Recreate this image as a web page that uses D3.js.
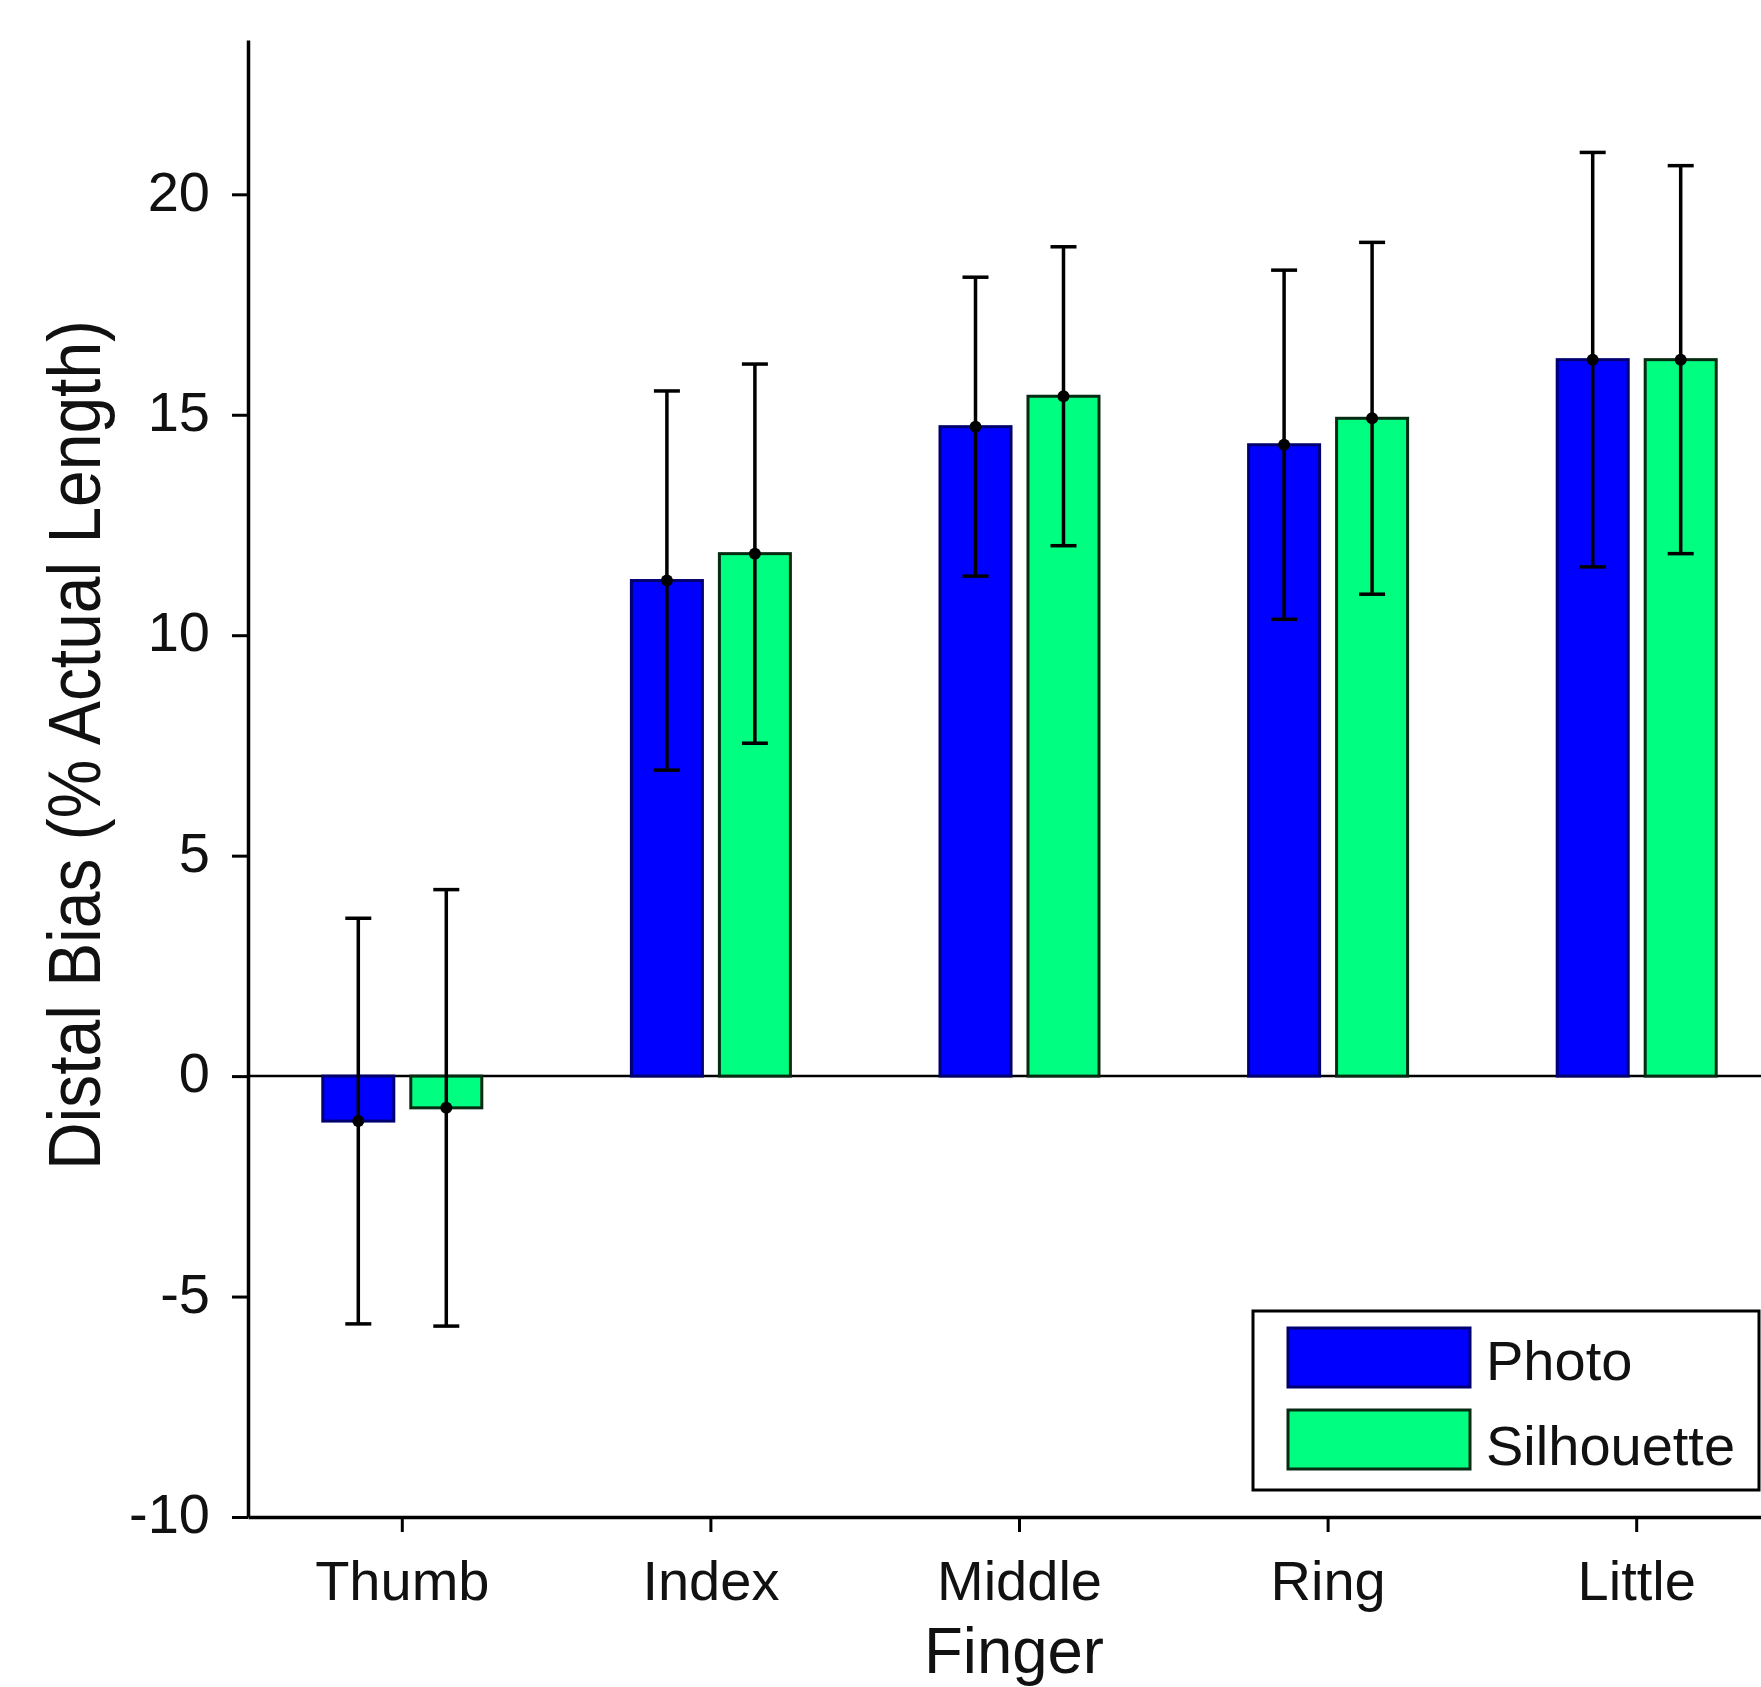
<!DOCTYPE html>
<html>
<head>
<meta charset="utf-8">
<script src="https://cdn.jsdelivr.net/npm/d3@7"></script>
<style>
  body { margin: 0; background: #fff; }
  text { font-family: "Liberation Sans", Arial, sans-serif; fill: #111; }
</style>
</head>
<body>
<div id="chart"></div>
<script>
const ancho = 1761
const alto = 1687
const margen = { superior: 40, inferior: 170, izquierdo: 248, derecho: -30 }

// datos
const dedos = ["Thumb", "Index", "Middle", "Ring", "Little"]
const series = ["Photo", "Silhouette"]
const photoMedia = [-1.02, 11.24, 14.73, 14.32, 16.25]
const photoError = [4.6, 4.3, 3.39, 3.96, 4.7]
const siluetaMedia = [-0.72, 11.85, 15.42, 14.92, 16.25]
const siluetaError = [4.95, 4.3, 3.39, 3.99, 4.4]
const yTicks = [-10, -5, 0, 5, 10, 15, 20]

const colores = { Photo: "#0000ff", Silhouette: "#00ff80" }
const bordes = { Photo: "#000070", Silhouette: "#062a12" }

const datos = []
dedos.forEach((d, i) => {
    datos.push({ dedo: d, serie: "Photo", media: photoMedia[i], error: photoError[i] })
    datos.push({ dedo: d, serie: "Silhouette", media: siluetaMedia[i], error: siluetaError[i] })
})

const svg = d3.select("#chart").append("svg")
    .attr("width", ancho)
    .attr("height", alto)

const x = d3.scaleBand().domain(dedos)
    .range([margen.izquierdo, ancho - margen.derecho])
const xs = d3.scaleBand().domain(series)
    .range([-79.5, 79.5]).paddingInner(0.193)
const y = d3.scaleLinear().domain([-10, 23.5])
    .range([alto - margen.inferior, margen.superior])

const centro = d => x(d.dedo) + x.bandwidth() / 2 + xs(d.serie) + xs.bandwidth() / 2

// linea del cero
svg.append("line")
    .attr("x1", margen.izquierdo).attr("x2", ancho)
    .attr("y1", y(0)).attr("y2", y(0))
    .attr("stroke", "#000").attr("stroke-width", 2.5)

// barras
svg.append("g").selectAll("rect")
    .data(datos)
    .join("rect")
        .attr("x", d => x(d.dedo) + x.bandwidth() / 2 + xs(d.serie))
        .attr("width", xs.bandwidth())
        .attr("y", d => y(Math.max(0, d.media)))
        .attr("height", d => Math.abs(y(d.media) - y(0)))
        .attr("fill", d => colores[d.serie])
        .attr("stroke", d => bordes[d.serie])
        .attr("stroke-width", 3)

// barras de error
const errores = svg.append("g").attr("stroke", "#000").attr("stroke-width", 3.5)
errores.selectAll(".vert").data(datos).join("line")
    .attr("class", "vert")
    .attr("x1", centro).attr("x2", centro)
    .attr("y1", d => y(d.media + d.error))
    .attr("y2", d => y(d.media - d.error))
errores.selectAll(".capArriba").data(datos).join("line")
    .attr("class", "capArriba")
    .attr("x1", d => centro(d) - 13).attr("x2", d => centro(d) + 13)
    .attr("y1", d => y(d.media + d.error)).attr("y2", d => y(d.media + d.error))
errores.selectAll(".capAbajo").data(datos).join("line")
    .attr("class", "capAbajo")
    .attr("x1", d => centro(d) - 13).attr("x2", d => centro(d) + 13)
    .attr("y1", d => y(d.media - d.error)).attr("y2", d => y(d.media - d.error))
svg.append("g").selectAll("circle").data(datos).join("circle")
    .attr("cx", centro)
    .attr("cy", d => y(d.media))
    .attr("r", 6)
    .attr("fill", "#000")

// ejes
const ejeY = d3.axisLeft(y).tickValues(yTicks).tickFormat(d => String(d))
    .tickSize(16).tickSizeOuter(0).tickPadding(22)
const ejeX = d3.axisBottom(x).tickSize(15).tickSizeOuter(0).tickPadding(28)

const grupoY = svg.append("g")
    .attr("transform", `translate(${margen.izquierdo},0)`)
    .call(ejeY)
const grupoX = svg.append("g")
    .attr("transform", `translate(0,${alto - margen.inferior})`)
    .call(ejeX)

;[grupoX, grupoY].forEach(g => {
    g.select(".domain").attr("stroke", "#000").attr("stroke-width", 3.5)
    g.selectAll(".tick line").attr("stroke", "#000").attr("stroke-width", 3)
    g.selectAll(".tick text")
        .attr("font-family", "Liberation Sans, Arial, sans-serif")
        .attr("font-size", 56)
        .attr("fill", "#111")
})
grupoY.selectAll(".tick text").attr("dy", "0.28em")
grupoX.selectAll(".tick text").attr("dy", "0.71em")

// titulos
svg.append("text")
    .text("Distal Bias (% Actual Length)")
    .attr("transform", `translate(100,745) rotate(-90)`)
    .attr("text-anchor", "middle")
    .attr("font-size", 75)
    .attr("textLength", 850)
    .attr("lengthAdjust", "spacingAndGlyphs")

svg.append("text")
    .text("Finger")
    .attr("x", 1014)
    .attr("y", 1673)
    .attr("text-anchor", "middle")
    .attr("font-size", 64)
    .attr("textLength", 180)
    .attr("lengthAdjust", "spacingAndGlyphs")

// leyenda
const leyenda = svg.append("g").attr("class", "leyenda")
leyenda.append("rect")
    .attr("x", 1253).attr("y", 1311)
    .attr("width", 506).attr("height", 179)
    .attr("fill", "#fff").attr("stroke", "#000").attr("stroke-width", 3)
series.forEach((s, i) => {
    leyenda.append("rect")
        .attr("x", 1288).attr("y", 1328 + i * 82)
        .attr("width", 182).attr("height", 59)
        .attr("fill", colores[s]).attr("stroke", bordes[s]).attr("stroke-width", 3)
    leyenda.append("text")
        .text(s)
        .attr("x", 1486).attr("y", 1380 + i * 85)
        .attr("font-size", 56)
})
</script>
</body>
</html>
